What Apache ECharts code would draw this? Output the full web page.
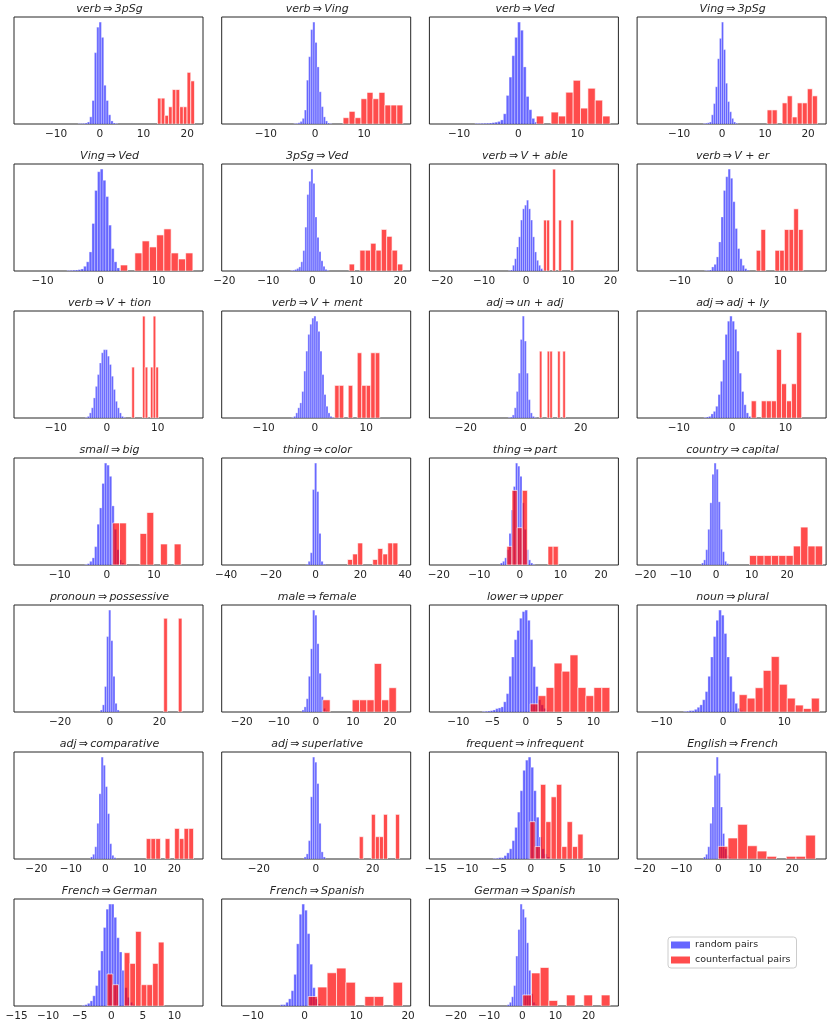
<!DOCTYPE html>
<html>
<head>
<meta charset="utf-8">
<script src="https://cdn.jsdelivr.net/npm/echarts@6/dist/echarts.min.js"></script>
<style>
  html, body { margin: 0; padding: 0; background: #fff; }
  #chart { width: 830px; height: 1027px; }
</style>
</head>
<body>
<div id="chart"></div>
<script>
// panel titles, row by row
const titles = [
  'verb⇒3pSg', 'verb⇒Ving', 'verb⇒Ved', 'Ving⇒3pSg',
  'Ving⇒Ved', '3pSg⇒Ved', 'verb⇒V + able', 'verb⇒V + er',
  'verb⇒V + tion', 'verb⇒V + ment', 'adj⇒un + adj', 'adj⇒adj + ly',
  'small⇒big', 'thing⇒color', 'thing⇒part', 'country⇒capital',
  'pronoun⇒possessive', 'male⇒female', 'lower⇒upper', 'noun⇒plural',
  'adj⇒comparative', 'adj⇒superlative', 'frequent⇒infrequent', 'English⇒French',
  'French⇒German', 'French⇒Spanish', 'German⇒Spanish'
];

// x limits of every panel
const xRanges = [
  [-19.6, 23.6], [-19, 19.5], [-15, 16.9], [-19.8, 24.2],
  [-14.9, 17.6], [-20.6, 22.4], [-23, 21.9], [-18.5, 19.1],
  [-18.2, 18.9], [-18.2, 18.7], [-32.7, 33.1], [-17.8, 17.6],
  [-19.7, 20.4], [-42, 42.5], [-22.3, 24.3], [-22.3, 31],
  [-38.5, 37.5], [-25.4, 25.6], [-14.3, 13.7], [-14, 16.8],
  [-26.5, 28.3], [-33, 33.3], [-16, 13.8], [-22, 29.2],
  [-15.4, 14.5], [-16, 20.5], [-28, 29]
];

// tick labels of every panel
const xTicks = [
  [-10, 0, 10, 20], [-10, 0, 10], [-10, 0, 10], [-10, 0, 10, 20],
  [-10, 0, 10], [-20, -10, 0, 10, 20], [-20, -10, 0, 10, 20], [-10, 0, 10],
  [-10, 0, 10], [-10, 0, 10], [-20, 0, 20], [-10, 0, 10],
  [-10, 0, 10], [-40, -20, 0, 20, 40], [-20, -10, 0, 10, 20], [-20, -10, 0, 10, 20],
  [-20, 0, 20], [-20, -10, 0, 10, 20], [-10, -5, 0, 5, 10], [-10, 0, 10],
  [-20, -10, 0, 10, 20], [-20, 0, 20], [-15, -10, -5, 0, 5, 10], [-20, -10, 0, 10, 20],
  [-15, -10, -5, 0, 5, 10], [-10, 0, 10, 20], [-20, -10, 0, 10, 20]
];

// random pairs: first bin edge, bin width, bin heights (tallest bar of a panel = 100)
const blueStart = [
  -4.97, -4.31, -7.31, -4.38, -5.79, -4.88, -4.2, -5.07, -4.19, -4.52, -5.24, -5.28,
  -4.68, -4.3, -4.8, -4.12, -3.79, -3.74, -6.46, -6.41, -4.31, -4.09, -5.93, -4,
  -4.62, -4.65, -4.52
];
const blueWidth = [
  0.535, 0.43, 0.48, 0.47, 0.477, 0.458, 0.476, 0.467, 0.393, 0.393, 0.698, 0.44,
  0.52, 0.955, 0.533, 0.588, 0.842, 0.576, 0.394, 0.439, 0.615, 0.744, 0.424, 0.571,
  0.42, 0.517, 0.645
];
const blueHeights = [
  [0.3, 0.4, 0.6, 1, 2, 7, 23, 70, 95, 100, 85, 38, 23, 9, 3, 1, 0.5],
  [0.4, 0.6, 1.2, 2.5, 5.5, 13.7, 43, 66, 92.6, 100, 80, 56, 31.6, 17, 7, 3, 1, 0.4],
  [0.5, 0.5, 0.6, 0.7, 0.8, 1, 1.3, 1.8, 2.5, 4, 10, 28, 46, 67, 85, 100, 92, 56, 27, 14, 5.5, 2, 0.8],
  [0.5, 0.8, 1.2, 2, 9, 20, 36.5, 64, 84, 100, 73, 40, 22, 12, 5.5, 2, 0.8],
  [0.5, 0.6, 0.8, 1, 1.3, 2, 4.6, 9, 18.7, 46.6, 79, 97.4, 100, 89, 73, 45, 22, 9, 3, 1],
  [0.5, 0.8, 1.5, 2.5, 4, 9, 20, 43, 75, 88, 100, 86, 53, 33, 19, 10, 4.6, 1.6, 0.6],
  [0.4, 1, 5.6, 12, 23.6, 33.5, 50, 61, 64.6, 69.5, 61, 50, 33.5, 18.7, 10.5, 5.6, 2.3, 0.8],
  [0.4, 0.6, 1, 4, 6.5, 13.8, 28.5, 53, 79, 92.5, 100, 91, 68, 41.7, 22, 12, 5.6, 2.3, 0.8],
  [0.5, 1.6, 5, 10, 19.7, 31, 42.6, 54, 64, 67, 67, 60.7, 52.5, 41, 28, 16.4, 10, 5, 1.6, 0.5],
  [0.5, 1.6, 5, 10, 14.8, 26, 46, 65.6, 82, 92, 98, 100, 95, 85, 65.6, 42.6, 23, 11.5, 5, 1.6, 0.5],
  [0.5, 1, 3, 10, 26, 44, 77, 100, 75.5, 44, 18, 5, 1.6, 0.5],
  [0.5, 1, 1.6, 4, 6.5, 11.5, 23, 36, 57, 82, 95, 100, 95, 87, 65.6, 44, 26, 13, 5, 1.5, 0.5],
  [0.5, 1.3, 3.6, 7, 18, 40, 56, 80, 100, 98, 87, 58, 35, 15, 5, 2, 0.6],
  [0.8, 3.6, 12, 74, 100, 72, 31, 3.6, 0.8],
  [2, 3.6, 7, 15, 31, 54, 77, 100, 97, 87, 61, 35, 15, 5, 2, 0.6],
  [2, 5, 15, 35, 61, 89, 100, 94, 62, 35, 13, 3.6, 1.3],
  [2, 7, 25, 74, 100, 70, 35, 8.5, 2],
  [2, 5, 13, 35, 62, 100, 95, 67, 38, 15, 3.6, 1.3],
  [0.5, 0.7, 1, 1.3, 2, 3.3, 4, 5, 10, 18, 35, 54, 71, 80, 92, 98.5, 100, 90, 71, 44.5, 25, 12, 7, 3.6, 1.3, 0.6],
  [0.5, 0.8, 1.3, 1.3, 2.6, 4.6, 7, 12, 20, 35, 54, 74, 90, 100, 95, 77, 54, 35, 20, 8.5, 3.6, 1.3, 0.6],
  [2, 4.6, 12, 35, 64, 100, 92, 71, 44.5, 15, 3.6, 1.3],
  [2, 5, 18, 61, 100, 95, 74, 35, 7, 2],
  [0.5, 0.7, 1.3, 1.3, 3.3, 6, 10, 18, 31, 46, 67, 87, 97, 100, 90, 67, 41, 21.6, 10, 5, 2, 1],
  [2, 4.6, 12, 35, 51, 82, 100, 84, 51, 25, 10, 3.6, 1.3],
  [0.6, 1.3, 2.6, 5, 10, 20, 35, 54, 77, 95, 100, 100, 87, 67, 53, 35, 18, 8.5, 3.6, 1.3],
  [1.3, 1.3, 3.6, 7, 15, 31, 61, 90, 100, 94, 71, 41, 18, 7, 2, 0.8],
  [1.3, 3.6, 9, 20, 49, 75, 100, 95, 87, 62, 35, 12, 3.6, 1.3]
];

// counterfactual pairs: first bin edge, bin width, bin heights (same scale)
const redStart = [
  13.2, 5.73, 3.05, 10.47, 3.39, 8.4, 4.13, 5.2, 4.92, 3.87, 5.58, 3.58,
  1.24, 14.3, -3.2, 9.4, 21.7, 1.87, 0.63, 2.63, 11.85, 15.26, -0.17, 0,
  -0.67, 0.72, 0.16
];
const redWidth = [
  0.845, 1.217, 1.243, 1.17, 1.247, 1.22, 0.714, 0.933, 0.524, 0.879, 0.907, 0.944,
  1.45, 2.245, 1.267, 2.06, 1.47, 1.985, 1.18, 1.307, 1.37, 1.414, 0.84, 2.63,
  0.9, 1.82, 2.63
];
const redHeights = [
  [25.4, 25.4, 8.5, 16.9, 33.8, 33.8, 16.9, 16.9, 50.7, 42.3],
  [6.2, 12.4, 6.2, 24.8, 31, 24.8, 31, 18.6, 18.6, 18.6],
  [7.8, 0, 11.7, 7.8, 31.2, 42.9, 15.6, 35.1, 23.4, 7.8],
  [13.8, 13.8, 0, 20.7, 27.6, 6.9, 20.7, 20.7, 34.5, 27.6],
  [5.9, 0, 17.7, 29.5, 23.6, 35.4, 41.3, 17.7, 11.8, 17.7],
  [6.8, 0, 20.4, 20.4, 27.2, 20.4, 40.8, 34, 20.4, 6.8],
  [50, 50, 0, 100, 0, 50, 0, 0, 0, 50],
  [20.3, 40.7, 0, 0, 20.3, 20.3, 40.7, 40.7, 61, 40.7],
  [50, 0, 0, 0, 100, 50, 0, 50, 100, 50],
  [32, 32, 0, 32, 0, 64, 32, 32, 64, 64],
  [65.6, 0, 0, 65.6, 65.6, 0, 0, 65.6, 0, 65.6],
  [16.8, 0, 16.8, 16.8, 16.8, 67.2, 33.6, 16.8, 33.6, 84],
  [41.2, 41.2, 0, 0, 30.9, 51.5, 0, 20.6, 0, 20.6],
  [5.4, 10.8, 21.6, 0, 0, 5.4, 16.2, 10.8, 21.6, 21.6],
  [18.3, 73.2, 36.6, 73.2, 0, 0, 0, 0, 18.3, 18.3],
  [9.3, 9.3, 9.3, 9.3, 9.3, 9.3, 18.6, 37.2, 18.6, 18.6],
  [92, 0, 0, 0, 92],
  [11.9, 0, 0, 0, 11.9, 11.9, 11.9, 47.6, 11.9, 23.8],
  [8, 16, 24, 48, 40, 56, 24, 16, 24, 24],
  [17, 13.6, 23.8, 40.8, 54.4, 27.2, 13.6, 6.8, 3.4, 13.6],
  [20, 20, 20, 0, 20, 0, 30, 20, 30, 30],
  [21.9, 0, 0, 43.8, 21.9, 21.9, 43.8, 0, 0, 43.8],
  [36.6, 12.2, 73.2, 36.6, 61, 73.2, 12.2, 36.6, 12.2, 24.4],
  [12.4, 20.6, 34, 13, 7.8, 2.6, 0, 2.6, 2.6, 23.4],
  [31.4, 20.9, 0, 52.3, 41.8, 73.2, 20.9, 20.9, 41.8, 62.7],
  [9.3, 18.6, 32.6, 37.2, 23.3, 0, 9.3, 9.3, 0, 23.3],
  [10.8, 32.4, 37.8, 5.4, 0, 10.8, 0, 10.8, 0, 10.8]
];

const BLUE = 'rgba(0,0,255,0.6)';
const RED = 'rgba(255,0,0,0.7)';
const INK = '#262626';

const chart = echarts.init(document.getElementById('chart'));

// one rect per bin, placed through the panel's own axes
function rectItem(fill, stroke, lw) {
  return function (params, api) {
    const a = api.coord([api.value(0), api.value(2)]);
    const b = api.coord([api.value(1), 0]);
    return {
      type: 'rect',
      shape: { x: a[0], y: a[1], width: b[0] - a[0], height: b[1] - a[1] },
      style: { fill: fill, stroke: stroke, lineWidth: lw }
    };
  };
}

function bins(start, width, heights) {
  const out = [];
  heights.forEach((h, k) => {
    if (h > 0) out.push([start + k * width, start + (k + 1) * width, h]);
  });
  return out;
}

const minus = v => (v < 0 ? '\u2212' + Math.abs(v) : String(v));

const grid = [], xAxis = [], yAxis = [], series = [], title = [];
titles.forEach((t, i) => {
  const col = i % 4, row = Math.floor(i / 4);
  const left = 14 + col * 207.7;
  const top = 17 + row * 147;
  grid.push({
    left: left, top: top, width: 189, height: 107,
    show: true, borderColor: INK, borderWidth: 1, backgroundColor: 'transparent'
  });
  title.push({
    // mathtext puts a little room round the arrow
    text: t.replace('⇒', '\u2009⇒\u2009'),
    left: left + 95.5, top: top - 13.5, textAlign: 'center', padding: 0,
    textStyle: { fontFamily: 'DejaVu Sans', fontStyle: 'italic', fontWeight: 'normal', fontSize: 11, color: INK }
  });
  xAxis.push({
    gridIndex: i, type: 'value', min: xRanges[i][0], max: xRanges[i][1],
    axisLine: { show: false }, axisTick: { show: false }, splitLine: { show: false },
    axisLabel: {
      customValues: xTicks[i], formatter: minus, margin: 4.5,
      fontFamily: 'DejaVu Sans', fontSize: 10.5, color: INK
    }
  });
  yAxis.push({ gridIndex: i, type: 'value', min: 0, max: 105, show: false });
  series.push({
    name: 'random pairs', type: 'custom', xAxisIndex: i, yAxisIndex: i, clip: true,
    itemStyle: { color: BLUE },
    renderItem: rectItem(BLUE, 'rgba(255,255,255,0.6)', 0.5),
    encode: { x: [0, 1], y: 2 },
    data: bins(blueStart[i], blueWidth[i], blueHeights[i])
  });
  series.push({
    name: 'counterfactual pairs', type: 'custom', xAxisIndex: i, yAxisIndex: i, clip: true,
    itemStyle: { color: RED },
    renderItem: rectItem(RED, 'rgba(255,255,255,0.8)', 0.8),
    encode: { x: [0, 1], y: 2 },
    data: bins(redStart[i], redWidth[i], redHeights[i])
  });
});

chart.setOption({
  animation: false,
  backgroundColor: '#fff',
  title: title,
  grid: grid,
  xAxis: xAxis,
  yAxis: yAxis,
  series: series,
  legend: {
    data: ['random pairs', 'counterfactual pairs'],
    left: 668, top: 937, orient: 'vertical', selectedMode: false,
    icon: 'rect', itemWidth: 19, itemHeight: 7, itemGap: 4, itemTextGap: 9,
    padding: [2.5, 6, 2.5, 3],
    borderColor: '#cccccc', borderWidth: 1, borderRadius: 3,
    textStyle: { fontFamily: 'DejaVu Sans', fontSize: 9.5, lineHeight: 11, color: INK }
  }
});
</script>
</body>
</html>
